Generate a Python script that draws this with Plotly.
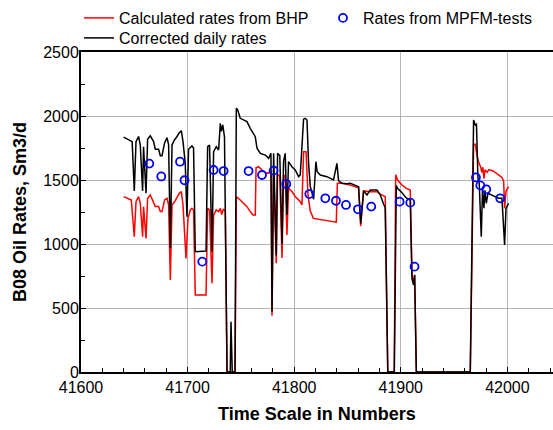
import plotly.graph_objects as go

# ---- Data ----
corr_days = [41640, 41646, 41648, 41650, 41651.6, 41654, 41655.6, 41657.8, 41658.7, 41661,
             41662.5, 41665, 41668.1, 41669.7, 41672.8, 41674.4, 41676, 41678.4, 41680.7, 41682.2,
             41683.8, 41685.4, 41687.8, 41690.1, 41692.2, 41694.1, 41695.7, 41697.8, 41699.4, 41700.9,
             41704.1, 41705.6, 41707.2, 41717.3, 41718.8, 41720.6, 41722.9, 41724.4, 41726.9, 41729.1,
             41730.7, 41731.6, 41733, 41734.6, 41737, 41740, 41740.7, 41741.9, 41744.5, 41745.7,
             41746.9, 41749.4, 41755.7, 41758.8, 41761.9, 41763.5, 41765.1, 41768.2, 41772.9, 41776,
             41778.2, 41779.2, 41780.7, 41783.2, 41784.4, 41786.5, 41788.6, 41790, 41791.6, 41793.2,
             41794.7, 41797.9, 41801, 41804.1, 41805.7, 41808.8, 41810.4, 41812, 41813.5, 41815.1,
             41818.2, 41820.4, 41821.5, 41824.5, 41830.7, 41836.9, 41840.1, 41841.6, 41844.8, 41849.5,
             41852.6, 41857.3, 41860.4, 41862.4, 41865.1, 41868.3, 41871.4, 41877.7, 41880.8, 41883.9,
             41885.4, 41887.8, 41893.9, 41895.8, 41897, 41901.1, 41905.2, 41908.9, 41910.5, 41912,
             41913, 41914.6, 41965.2, 41968.3, 41969.9, 41971, 41972.4, 41973.6, 41975.5, 41976.7,
             41978, 41979, 41980.2, 41981.8, 41985.5, 41988.6, 41991.7, 41994.9, 41997.4, 41998.7,
             42001.1]
corr_rates = [1835, 1812, 1800, 1415, 1800, 1840, 1775, 1415, 1760, 1396,
              1820, 1845, 1800, 1740, 1740, 1690, 1690, 1790, 1830, 1775,
              968, 1775, 1815, 1840, 1870, 1885, 1800, 1630, 1213, 1740,
              1766, 1750, 940, 945, 1760, 1773, 940, 1721, 1760, 1734,
              1943, 1880, 1930, 1836, 0, 0, 393, 0, 0, 2060,
              2050, 1982, 1956, 1904, 1865, 1838, 1748, 1708, 1695, 1669,
              1708, 470, 1708, 910, 1708, 1690, 1000, 1643, 1708, 1226,
              1643, 1604, 1578, 1526, 1540, 1975, 1982, 1969, 1630, 1450,
              1350, 1643, 1565, 1539, 1526, 1500, 1630, 1495, 1474, 1470,
              1474, 1460, 1448, 1160, 1415, 1383, 1422, 1422, 1383, 1310,
              1285, 0, 0, 1457, 1435, 1400, 1360, 1340, 730, 680,
              758, 0, 0, 1969, 1930, 1935, 1513, 1474, 1057, 1435,
              1279, 1420, 1318, 1396, 1383, 1370, 1357, 1357, 992, 1279,
              1318]

bhp_days = [41640, 41644.7, 41647.2, 41650, 41651.6, 41654, 41655.6, 41657.8, 41658.7, 41661,
            41662.5, 41665, 41668.1, 41669.7, 41672.8, 41674.4, 41676, 41678.4, 41680.7, 41682.2,
            41683.8, 41685.4, 41687.8, 41690.1, 41692.2, 41694.1, 41695.7, 41698.5, 41700.4, 41702.5,
            41704.1, 41705.6, 41707.2, 41717.3, 41718.8, 41720.6, 41722.9, 41724.4, 41726.9, 41729.1,
            41730.7, 41732, 41733.5, 41735.4, 41737, 41744.5, 41745.7, 41749.4, 41752.5, 41755.7,
            41758.8, 41761.3, 41763.5, 41764.2, 41766.6, 41769.8, 41774.5, 41778.2, 41779.2, 41780.7,
            41783.2, 41784.4, 41786.5, 41788.6, 41790, 41791.6, 41793.2, 41794.7, 41797.9, 41801,
            41805.7, 41807.3, 41808.8, 41811.1, 41813, 41815, 41818, 41825, 41830, 41835,
            41839.5, 41840.5, 41845, 41852.6, 41857.3, 41860.4, 41862.4, 41865.1, 41871.4, 41877.7,
            41880.8, 41883.9, 41885.4, 41887.8, 41893.9, 41895.2, 41897, 41901.1, 41905.2, 41908.9,
            41910.5, 41912, 41913, 41914.6, 41965.2, 41968.3, 41969.9, 41971.5, 41973, 41975,
            41976, 41977, 41978, 41979, 41981, 41982.5, 41985.5, 41988.6, 41991.7, 41994.9,
            41996.5, 41997.4, 41998.7, 42001.1]
bhp_rates = [1370, 1357, 1344, 1057, 1331, 1370, 1320, 1057, 1290, 1044,
             1357, 1383, 1318, 1292, 1292, 1253, 1253, 1344, 1357, 1305,
             718, 1305, 1330, 1370, 1396, 1409, 1305, 888, 1201, 1266,
             1279, 1266, 602, 602, 1279, 1266, 693, 1226, 1266, 1253,
             1279, 1230, 1270, 1260, 0, 0, 1370, 1344, 1318, 1292,
             1253, 1226, 1226, 1596, 1604, 1578, 1552, 1560, 440, 1552,
             850, 1545, 1530, 890, 1520, 1539, 1070, 1435, 1410, 1370,
             1331, 1305, 1721, 1721, 1380, 1260, 1200, 1190, 1185, 1175,
             1170, 1474, 1474, 1460, 1448, 1440, 1140, 1415, 1409, 1409,
             1390, 1380, 1370, 0, 0, 1540, 1500, 1461, 1435, 1422,
             760, 690, 760, 0, 0, 1780, 1780, 1690, 1640, 1600,
             1560, 1600, 1510, 1580, 1560, 1580, 1575, 1560, 1540, 1520,
             1490, 1280, 1410, 1448]

mpfm_days = [41664.1, 41675.3, 41692.9, 41697.1, 41713.8, 41724.4, 41733.8, 41757.2, 41769.8, 41780.7,
             41792.6, 41814.2, 41829.2, 41839.2, 41848.6, 41859.8, 41872.3, 41898.9, 41908.9, 41912.9,
             41970.5, 41974.6, 41980.2, 41993.3]
mpfm_rates = [1628, 1528, 1643, 1498, 862, 1578, 1570, 1570, 1539, 1573,
              1469, 1390, 1357, 1338, 1305, 1271, 1292, 1331, 1323, 823,
              1520, 1458, 1427, 1357]

x_title = "Time Scale in Numbers"
y_title = "B08 Oil Rates, Sm3/d"

FONT = "Liberation Sans, Arial, sans-serif"

fig = go.Figure()
fig.add_trace(go.Scatter(x=bhp_days, y=bhp_rates, mode="lines", name="Calculated rates from BHP",
                         line=dict(color="#ff0000", width=1.5), legend="legend", showlegend=True))
fig.add_trace(go.Scatter(x=corr_days, y=corr_rates, mode="lines", name="Corrected daily rates",
                         line=dict(color="#000000", width=1.5), legend="legend3", showlegend=True))
fig.add_trace(go.Scatter(x=mpfm_days, y=mpfm_rates, mode="markers", name="Rates from MPFM-tests",
                         marker=dict(symbol="circle-open", size=8, color="#0000ff",
                                     line=dict(width=1.8, color="#0000ff")),
                         legend="legend2", showlegend=True))

leg_common = dict(xref="container", yref="container", xanchor="left", yanchor="top",
                  orientation="v", font=dict(family=FONT, size=16, color="black"),
                  bgcolor="rgba(0,0,0,0)", itemwidth=30, visible=True)

fig.update_layout(
    width=553, height=430,
    showlegend=True,
    margin=dict(l=81, r=0, t=52, b=58, autoexpand=False),
    paper_bgcolor="white", plot_bgcolor="white",
    font=dict(family=FONT, size=16, color="black"),
    legend=dict(x=79 / 553, y=1 - 1 / 430, **leg_common),
    legend2=dict(x=323 / 553, y=1 - 1 / 430, **leg_common),
    legend3=dict(x=79 / 553, y=1 - 21 / 430, **leg_common),
    xaxis=dict(
        range=[41600, 42042.8], dtick=100, tick0=41600, tickformat="d",
        showgrid=True, gridcolor="#b4b4b4", gridwidth=1,
        showline=True, linecolor="black", linewidth=2, mirror=True,
        ticks="inside", ticklen=5, tickcolor="black", tickwidth=1,
        minor=dict(dtick=20, ticks="inside", ticklen=4, tickcolor="black", showgrid=False),
        tickfont=dict(family=FONT, size=16, color="black"),
        zeroline=False,
    ),
    yaxis=dict(
        range=[0, 2500], dtick=500, tickformat="d",
        showgrid=True, gridcolor="#b4b4b4", gridwidth=1,
        showline=True, linecolor="black", linewidth=2,
        ticks="inside", ticklen=5, tickcolor="black", tickwidth=1,
        minor=dict(dtick=250, ticks="inside", ticklen=4, tickcolor="black", showgrid=False),
        tickfont=dict(family=FONT, size=16, color="black"),
        ticklabelstandoff=-3,
        zeroline=False,
    ),
    annotations=[
        dict(text="<b>%s</b>" % x_title, xref="paper", yref="paper", x=0.5, y=(372 - 414) / 320,
             xanchor="center", yanchor="middle", showarrow=False,
             font=dict(family=FONT, size=18, color="black")),
        dict(text="<b>%s</b>" % y_title, xref="paper", yref="paper", x=(20 - 81) / 472, y=0.5,
             xanchor="center", yanchor="middle", textangle=-90, showarrow=False,
             font=dict(family=FONT, size=18, color="black")),
    ],
)

fig.write_html("out.html")
